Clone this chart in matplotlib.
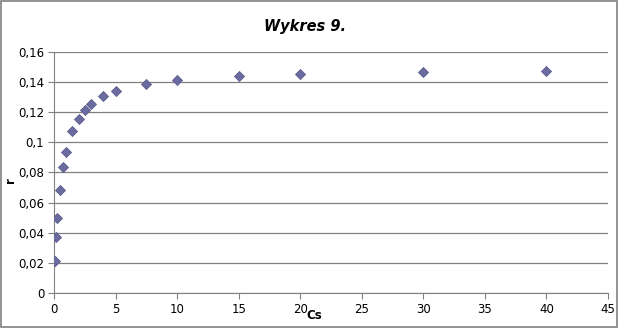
import matplotlib
matplotlib.use('Agg')
import matplotlib.pyplot as plt
from matplotlib.ticker import FuncFormatter

# dane z wykresu
cs = [0.1, 0.2, 0.25, 0.5, 0.75, 1, 1.5, 2, 2.5, 3, 4, 5, 7.5, 10, 15, 20, 30, 40]
r = [0.0212, 0.0375, 0.0498, 0.0684, 0.0835, 0.0936, 0.1074, 0.1155, 0.1212,
     0.1252, 0.1306, 0.1340, 0.1389, 0.1416, 0.1443, 0.1455, 0.1470, 0.1476]
xticks = [0, 5, 10, 15, 20, 25, 30, 35, 40, 45]
yticks = [0, 0.02, 0.04, 0.06, 0.08, 0.1, 0.12, 0.14, 0.16]

fig = plt.figure(figsize=(6.18, 3.28), dpi=100)
ax = fig.add_axes([0.0874, 0.1067, 0.8964, 0.7348])

ax.scatter(cs, r, marker='D', s=26, color='#6b6ba0', edgecolor='#5a5a90',
           linewidth=0.6, zorder=3)

ax.set_xlim(0, 45)
ax.set_ylim(0, 0.16)
ax.set_xticks(xticks)
ax.set_yticks(yticks)
ax.yaxis.set_major_formatter(FuncFormatter(lambda v, p: ('%g' % v).replace('.', ',')))
ax.tick_params(labelsize=8.5, color='#808080', length=4, width=0.8, pad=3)
ax.grid(axis='y', color='#808080', linewidth=0.9)
ax.set_axisbelow(True)
for s in ['top', 'right']:
    ax.spines[s].set_visible(False)
for s in ['left', 'bottom']:
    ax.spines[s].set_color('#808080')

fig.text(0.494, 0.918, 'Wykres 9.', ha='center', va='center',
         fontsize=10.5, fontweight='bold', fontstyle='italic')
fig.text(0.508, 0.038, 'Cs', ha='center', va='center', fontsize=8.5, fontweight='bold')
fig.text(0.017, 0.452, 'r', ha='center', va='center', fontsize=8.5,
         fontweight='bold', rotation=90)

# ramka wokol wykresu
fig.patches.append(plt.Rectangle((0.001, 0.002), 0.997, 0.995, transform=fig.transFigure,
                                 fill=False, edgecolor='#808080', linewidth=1.2))

fig.savefig('out.png', dpi=100)
